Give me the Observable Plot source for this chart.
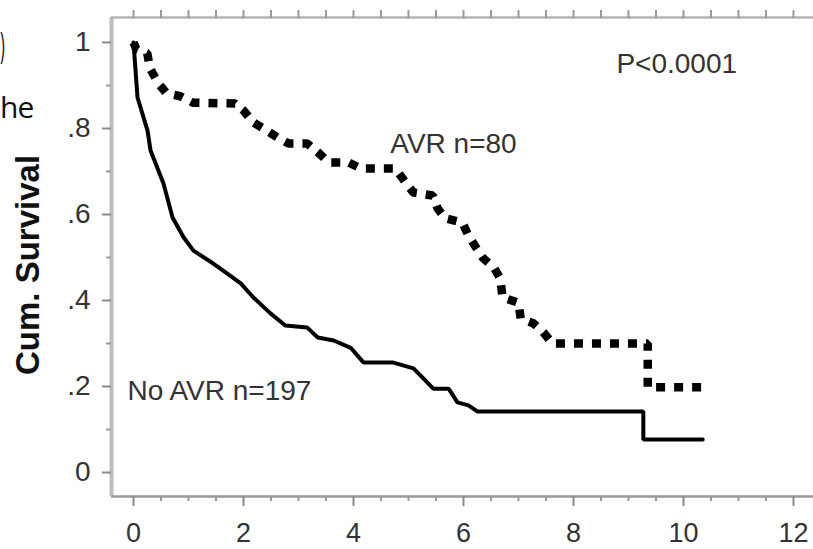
<!DOCTYPE html>
<html>
<head>
<meta charset="utf-8">
<script src="https://cdn.jsdelivr.net/npm/d3@7"></script>
<script src="https://cdn.jsdelivr.net/npm/@observablehq/plot@0.6"></script>
<style>
  html, body { margin: 0; padding: 0; background: #fff; }
  #wrap { position: relative; width: 813px; height: 549px; overflow: hidden; }
  .frag { position: absolute; font-family: "Open Sans", "Noto Sans", sans-serif; color: #111; line-height: 1; white-space: nowrap; }
</style>
</head>
<body>
<div id="wrap">
  <div class="frag" style="left:0px; top:27px; font-size:36px; transform: scaleX(0.45); transform-origin: left top;">)</div>
  <div class="frag" style="left:0px; top:92px; font-size:30px; letter-spacing:-1px;">he</div>
</div>
<script>
// ---- data ----
const avrTime = [0, 0.05, 0.25, 0.3, 0.45, 0.6, 0.85, 1.08, 1.85, 2.0, 2.18, 2.36, 2.62, 2.82, 3.16, 3.36, 3.55, 3.91, 4.13, 4.76, 4.95, 5.09, 5.44, 5.53, 5.67, 5.98, 6.09, 6.22, 6.36, 6.55, 6.67, 6.71, 7.0, 7.04, 7.27, 7.45, 7.62, 9.35, 9.35, 10.36];
const avrSurv = [1.0, 0.985, 0.975, 0.94, 0.905, 0.882, 0.875, 0.86, 0.858, 0.842, 0.814, 0.8, 0.779, 0.765, 0.765, 0.744, 0.721, 0.721, 0.707, 0.707, 0.674, 0.651, 0.644, 0.614, 0.591, 0.581, 0.551, 0.525, 0.498, 0.477, 0.451, 0.407, 0.395, 0.358, 0.347, 0.326, 0.3, 0.3, 0.198, 0.198];

const noAvrTime = [0, 0.073, 0.255, 0.31, 0.545, 0.71, 0.91, 1.09, 1.45, 1.58, 1.95, 2.18, 2.49, 2.76, 3.16, 3.35, 3.64, 3.95, 4.18, 4.71, 5.09, 5.27, 5.45, 5.73, 5.89, 6.09, 6.25, 9.27, 9.27, 10.35];
const noAvrSurv = [1.0, 0.872, 0.795, 0.749, 0.672, 0.593, 0.547, 0.516, 0.486, 0.474, 0.44, 0.407, 0.37, 0.342, 0.337, 0.314, 0.307, 0.29, 0.256, 0.256, 0.242, 0.219, 0.195, 0.195, 0.163, 0.156, 0.142, 0.142, 0.077, 0.077];

const xMajorTicks = [0, 2, 4, 6, 8, 10, 12];
const xMinorTicks = [0.5, 1, 1.5, 2.5, 3, 3.5, 4.5, 5, 5.5, 6.5, 7, 7.5, 8.5, 9, 9.5, 10.5, 11, 11.5];
const xTopTicks = [0, 0.5, 1, 1.5, 2, 2.5, 3, 3.5, 4, 4.5, 5, 5.5, 6, 6.5, 7, 7.5, 8, 8.5, 9, 9.5, 10, 10.5, 11, 11.5, 12];
const yMajorTicks = [0, 0.2, 0.4, 0.6, 0.8, 1];
const yMinorTicks = [0.1, 0.3, 0.5, 0.7, 0.9];
const yTickLabels = ["0", ".2", ".4", ".6", ".8", "1"];

const xDomain = [-0.4, 12.364];
const yDomain = [-0.0558, 1.0581];

const labels = ["P<0.0001", "AVR n=80", "No AVR n=197"];
const labelX = [8.78, 4.67, -0.11];
const labelY = [0.951, 0.763, 0.19];

const avr = avrTime.map((t, i) => ({t, s: avrSurv[i]}));
const noAvr = noAvrTime.map((t, i) => ({t, s: noAvrSurv[i]}));
const notes = labels.map((text, i) => ({text, x: labelX[i], y: labelY[i]}));

const plot = Plot.plot({
  width: 813,
  height: 549,
  marginLeft: 111,
  marginRight: 0,
  marginTop: 17,
  marginBottom: 53,
  x: {domain: xDomain},
  y: {domain: yDomain},
  style: {fontFamily: "'Liberation Sans', Arial, sans-serif", fontSize: "28px", background: "transparent", overflow: "visible"},
  marks: [
    Plot.ruleX([xDomain[0]], {stroke: "#bdbdbd", strokeWidth: 4}),
    Plot.ruleY([yDomain[0]], {stroke: "#9a9a9a", strokeWidth: 2.5}),
    Plot.ruleY([yDomain[1]], {stroke: "#b5b5b5", strokeWidth: 2.5}),
    Plot.axisY({ticks: yMajorTicks, tickSize: 9, tickPadding: 12, tickFormat: d => yTickLabels[yMajorTicks.indexOf(d)], stroke: "#8a8a8a", strokeWidth: 2, fill: "#333", fontSize: 28, label: null}),
    Plot.axisY({ticks: yMinorTicks, tickSize: 5, tickFormat: () => "", stroke: "#9a9a9a", strokeWidth: 2, label: null}),
    Plot.axisX({ticks: xMajorTicks, tickSize: 10, tickPadding: 16, stroke: "#8a8a8a", strokeWidth: 2, fill: "#333", fontSize: 27, label: null}),
    Plot.axisX({ticks: xMinorTicks, tickSize: 5, tickFormat: () => "", stroke: "#9a9a9a", strokeWidth: 2, label: null}),
    Plot.axisX({anchor: "top", ticks: xTopTicks, tickSize: 8, tickFormat: () => "", stroke: "#9a9a9a", strokeWidth: 2, label: null}),
    Plot.line(noAvr, {x: "t", y: "s", stroke: "#000", strokeWidth: 4, strokeLinejoin: "miter"}),
    Plot.line(avr, {x: "t", y: "s", stroke: "#000", strokeWidth: 8.5, strokeDasharray: "9,9", strokeLinecap: "butt", strokeLinejoin: "miter"}),
    Plot.text(notes, {x: "x", y: "y", text: "text", textAnchor: "start", fontSize: 28, fill: "#333"}),
    Plot.text(["Cum. Survival"], {frameAnchor: "left", textAnchor: "middle", rotate: -90, dx: -83, dy: 8, fontSize: 33, fontWeight: "bold", fill: "#111"})
  ]
});
plot.style.position = "absolute";
plot.style.left = "0px";
plot.style.top = "0px";
document.getElementById("wrap").prepend(plot);
</script>
</body>
</html>
